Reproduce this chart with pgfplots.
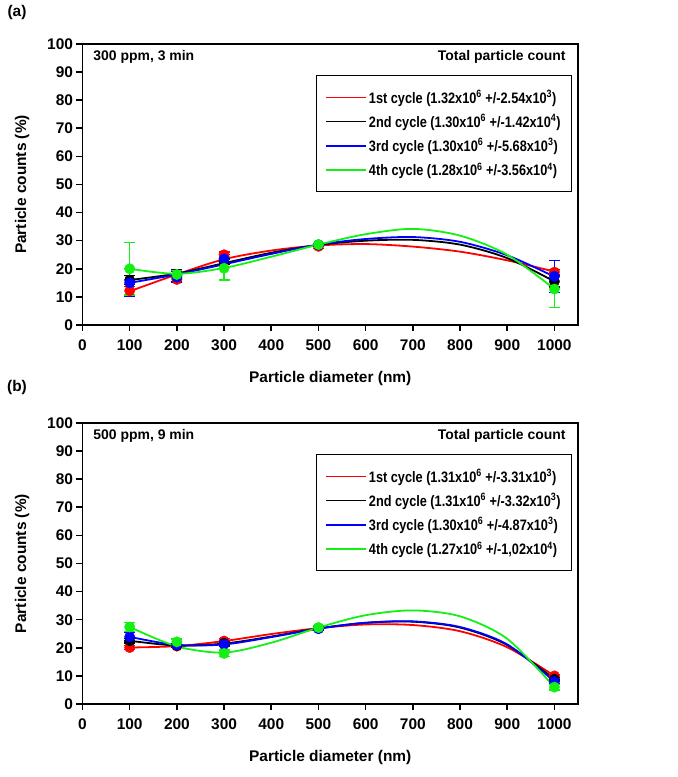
\documentclass[border=0pt]{standalone}
\usepackage{fontspec}
\setmainfont{Liberation Sans}
\newfontfamily\legfont[FakeStretch=0.84]{Liberation Sans}
\usepackage{pgfplots}
\pgfplotsset{compat=1.18}
\definecolor{cred}{RGB}{255,0,0}
\definecolor{cblack}{RGB}{0,0,0}
\definecolor{cblue}{RGB}{0,0,255}
\definecolor{cgreen}{RGB}{20,240,20}
\pgfplotsset{
  panel/.style={
    scale only axis, width=495.5bp, height=281bp,
    xmin=0, xmax=1050, ymin=0, ymax=100,
    xtick={0,100,...,1000}, ytick={0,10,...,100},
    xtick pos=bottom, ytick pos=left, tick align=outside,
    major tick length=6bp,
    axis line style={line width=1.6bp},
    every tick/.style={line width=1.6bp, black},
    tick label style={font=\fontsize{15.5}{17}\selectfont\bfseries},
    xticklabel style={yshift=-5bp},
    /pgf/number format/assume math mode=true,
    /pgf/number format/1000 sep={},
    label style={font=\fontsize{15.5}{17}\selectfont\bfseries},
    xlabel={Particle diameter (nm)}, ylabel={Particle counts (\%)},
    xlabel style={at={(axis description cs:0.5,-0.19)},anchor=center},
    ylabel style={at={(axis description cs:-0.122,0.5)},anchor=center},
    legend style={at={(rel axis cs:0.988,0.89)}, anchor=north east,
      draw=black, line width=1bp, font=\fontsize{15.2}{17}\legfont\bfseries,
      inner xsep=9bp, inner ysep=13bp, row sep=6bp, cells={anchor=west}},
    legend image code/.code={\draw[line width=1.8bp,##1] (0bp,0bp) -- (40bp,0bp);},
  },
  curve/.style={smooth, no marks, line width=1.8bp},
  pts/.style={only marks, mark=*, mark size=5.2bp, forget plot,
      error bars/y dir=both, error bars/y explicit,
      error bars/error bar style={line width=1.2bp},
      error bars/error mark options={line width=1.2bp, mark size=5.5bp, rotate=90}},
}
\begin{document}
\begin{tikzpicture}
\path[use as bounding box] (0,0) rectangle (678bp,777bp);
\node[font=\fontsize{15.5}{17}\selectfont\bfseries] at (17bp,764bp) {(a)};
\node[font=\fontsize{15.5}{17}\selectfont\bfseries] at (17bp,389bp) {(b)};
% ---------------- (a)
\begin{axis}[panel, at={(82.5bp,452bp)}, anchor=south west]
\addplot[curve, color=cred] coordinates {(100,12.0)(200,18.0)(300,23.4)(400,26.5)(500,28.3)(600,28.8)(700,27.9)(800,26.1)(900,23.0)(1000,19.0)};
\addlegendentry{1st cycle (1.32x10\textsuperscript{6} +/-2.54x10\textsuperscript{3})}
\addplot[curve, color=cblack] coordinates {(100,16.0)(200,18.3)(300,22.0)(400,25.7)(500,28.5)(600,30.0)(700,30.3)(800,28.6)(900,23.8)(1000,15.5)};
\addlegendentry{2nd cycle (1.30x10\textsuperscript{6} +/-1.42x10\textsuperscript{4})}
\addplot[curve, color=cblue] coordinates {(100,15.0)(200,18.0)(300,21.6)(400,25.3)(500,28.6)(600,30.6)(700,31.3)(800,29.6)(900,24.8)(1000,17.2)};
\addlegendentry{3rd cycle (1.30x10\textsuperscript{6} +/-5.68x10\textsuperscript{3})}
\addplot[curve, color=cgreen] coordinates {(100,20.0)(200,18.2)(300,20.3)(400,24.3)(500,28.6)(600,32.3)(700,34.2)(800,31.8)(900,25.0)(1000,12.8)};
\addlegendentry{4th cycle (1.28x10\textsuperscript{6} +/-3.56x10\textsuperscript{4})}
\addplot[pts, color=cred] coordinates {(100,12.2) +- (0,1.5) (200,16.2) +- (0,1.2) (300,25.0) +- (0,1.0) (500,28.0) +- (0,0.8) (1000,18.8) +- (0,1.0)};
\addplot[pts, color=cblack] coordinates {(100,16.0) +- (0,1.5) (200,17.5) +- (0,2.2) (300,22.5) +- (0,1.0) (500,28.5) +- (0,0.5) (1000,15.5) +- (0,2.0)};
\addplot[pts, color=cblue] coordinates {(100,15.0) +- (0,5.0) (200,17.0) +- (0,2.0) (300,23.5) +- (0,1.5) (500,28.5) +- (0,0.5) (1000,17.3) +- (0,5.7)};
\addplot[pts, color=cgreen] coordinates {(100,20.0) +- (0,9.3) (200,18.0) +- (0,1.5) (300,20.2) +- (0,4.2) (500,28.6) +- (0,0.5) (1000,12.8) +- (0,6.5)};
\node[font=\fontsize{14}{16}\selectfont\bfseries, anchor=west] at (rel axis cs:0.015,0.953) {300 ppm, 3 min};
\node[font=\fontsize{14}{16}\selectfont\bfseries, anchor=east] at (rel axis cs:0.982,0.953) {Total particle count};
\end{axis}
% ---------------- (b)
\begin{axis}[panel, at={(82.5bp,73bp)}, anchor=south west]
\addplot[curve, color=cred] coordinates {(100,20.1)(200,20.6)(300,22.4)(400,24.9)(500,27.0)(600,28.3)(700,28.1)(800,25.9)(900,20.2)(1000,10.0)};
\addlegendentry{1st cycle (1.31x10\textsuperscript{6} +/-3.31x10\textsuperscript{3})}
\addplot[curve, color=cblack] coordinates {(100,22.5)(200,20.8)(300,21.5)(400,24.0)(500,26.9)(600,28.9)(700,29.3)(800,27.2)(900,21.0)(1000,8.8)};
\addlegendentry{2nd cycle (1.31x10\textsuperscript{6} +/-3.32x10\textsuperscript{3})}
\addplot[curve, color=cblue] coordinates {(100,23.9)(200,21.0)(300,21.2)(400,23.8)(500,26.8)(600,28.9)(700,29.4)(800,27.4)(900,21.2)(1000,8.0)};
\addlegendentry{3rd cycle (1.30x10\textsuperscript{6} +/-4.87x10\textsuperscript{3})}
\addplot[curve, color=cgreen] coordinates {(100,27.4)(200,20.5)(300,18.3)(400,21.8)(500,27.2)(600,31.6)(700,33.3)(800,31.2)(900,23.2)(1000,6.0)};
\addlegendentry{4th cycle (1.27x10\textsuperscript{6} +/-1,02x10\textsuperscript{4})}
\addplot[pts, color=cred] coordinates {(100,20.1) +- (0,0.8) (200,20.6) +- (0,0.6) (300,22.4) +- (0,0.8) (500,27.0) +- (0,0.6) (1000,10.0) +- (0,0.6)};
\addplot[pts, color=cblack] coordinates {(100,22.5) +- (0,0.8) (200,20.8) +- (0,0.6) (300,21.6) +- (0,0.6) (500,26.9) +- (0,0.6) (1000,8.8) +- (0,0.6)};
\addplot[pts, color=cblue] coordinates {(100,23.9) +- (0,1.5) (200,21.0) +- (0,0.6) (300,21.2) +- (0,0.8) (500,26.8) +- (0,0.6) (1000,8.0) +- (0,0.8)};
\addplot[pts, color=cgreen] coordinates {(100,27.4) +- (0,1.5) (200,22.1) +- (0,1.0) (300,18.0) +- (0,1.2) (500,27.2) +- (0,0.7) (1000,6.0) +- (0,1.0)};
\node[font=\fontsize{14}{16}\selectfont\bfseries, anchor=west] at (rel axis cs:0.015,0.953) {500 ppm, 9 min};
\node[font=\fontsize{14}{16}\selectfont\bfseries, anchor=east] at (rel axis cs:0.982,0.953) {Total particle count};
\end{axis}
\end{tikzpicture}
\end{document}
